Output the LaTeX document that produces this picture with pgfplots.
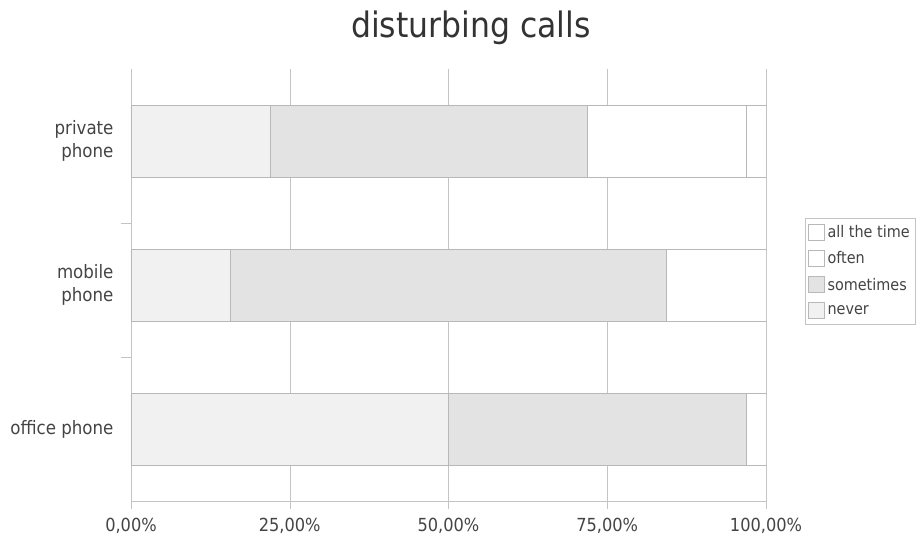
\documentclass[border=0pt]{standalone}
\usepackage{pgfplots}
\pgfplotsset{compat=1.18}
\usepackage{fontspec}
\setmainfont{DejaVu Sans Condensed}
\definecolor{txt}{HTML}{444444}
\definecolor{gridc}{HTML}{C4C4C4}
\definecolor{barline}{HTML}{B8B8B8}
\definecolor{cnever}{HTML}{F1F1F1}
\definecolor{csometimes}{HTML}{E3E3E3}
\definecolor{coften}{HTML}{FFFFFF}
\definecolor{callt}{HTML}{FFFFFF}
\begin{document}
\begin{tikzpicture}
\useasboundingbox (0,0) rectangle (919pt,542pt);
\begin{axis}[
  at={(131pt,41pt)}, anchor=south west,
  scale only axis, width=635pt, height=432pt,
  xbar stacked, bar width=72pt,
  xmin=0, xmax=100, ymin=-0.5, ymax=2.5,
  axis x line*=bottom, axis y line*=left,
  axis line style={draw=gridc},
  xtick={0,25,50,75,100},
  xticklabels={{0,00\%},{25,00\%},{50,00\%},{75,00\%},{100,00\%}},
  xticklabel style={font=\fontsize{18}{21}\selectfont, text=txt, yshift=-6pt},
  ytick={0,1,2},
  yticklabels={{office phone},{mobile\\phone},{private\\phone}},
  yticklabel style={align=right, font=\fontsize{18.5}{23}\selectfont, text=txt, xshift=-6pt},
  xmajorgrids, grid style={draw=gridc},
  tick align=outside, major tick length=8pt,
  xtick style={draw=gridc},
  ytick style={draw=none},
  extra y ticks={0.5,1.43},
  extra y tick labels={},
  extra y tick style={ytick style={draw=gridc}, major tick length=10pt},
  legend style={at={(1.061,0.532)}, anchor=west, draw=gridc,
    font=\fontsize{16}{18}\selectfont, text=txt, row sep=8.5pt,
    inner xsep=3pt, inner ysep=5pt, nodes={inner xsep=3pt}},
  legend cell align=left,
  reverse legend,
  legend image code/.code={\draw[#1] (0pt,-8pt) rectangle (16pt,8pt);},
  every axis plot/.append style={draw=barline, line width=0.6pt},
]
\addplot[fill=cnever, draw=barline] coordinates {(50,0) (15.625,1) (21.875,2)};
\addplot[fill=csometimes, draw=barline] coordinates {(46.875,0) (68.75,1) (50,2)};
\addplot[fill=coften, draw=barline] coordinates {(3.125,0) (15.625,1) (25,2)};
\addplot[fill=callt, draw=barline] coordinates {(0,0) (0,1) (3.125,2)};
\legend{never,sometimes,often,all the time}
\end{axis}
\node[anchor=base, text=black!80, font=\fontsize{35}{40}\selectfont] at (471pt,504pt) {disturbing calls};
\end{tikzpicture}
\end{document}
